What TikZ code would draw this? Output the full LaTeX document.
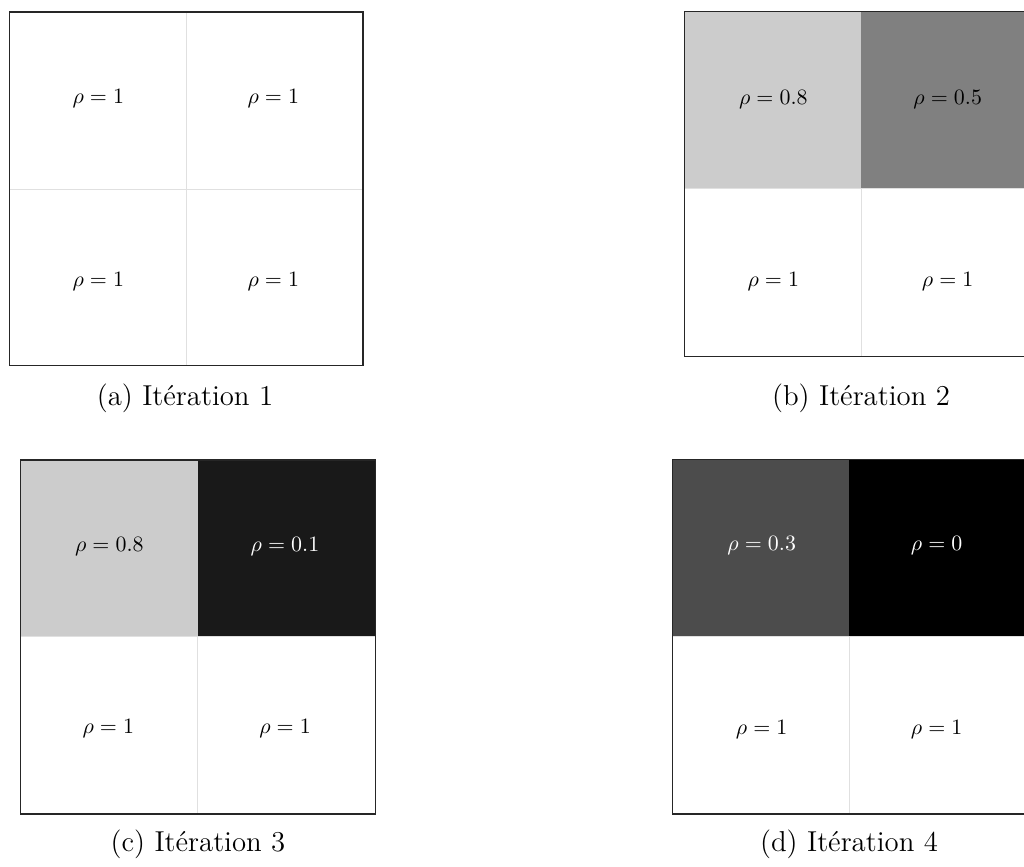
\documentclass[tikz,border=0pt]{standalone}
\usepackage{tikz}

\begin{document}
\begin{tikzpicture} [
    x=0.5pt, y=-0.5pt,
    frame/.style={draw=black!85, line width=0.7pt},
    gridLine/.style={draw=black!12, line width=0.5pt},
    rhoLabel/.style={inner sep=0pt, font=\fontsize{10.8}{13}\selectfont},
    rhoLabelDark/.style={rhoLabel, text=white},
    subCaption/.style={anchor=base, inner sep=0pt, font=\fontsize{14.4}{17}\selectfont}
]

\path[use as bounding box, clip] (0, 0) rectangle (1024, 867);

% (a) Iteration 1
\draw[gridLine] (186.3, 12) -- (186.3, 365.5);
\draw[gridLine] (9.5, 189) -- (363, 189);
\draw[frame] (9.5, 12) rectangle (363, 365.5);

\node[rhoLabel] (a_tl) at (98.3, 99) {$\rho = 1$};
\node[rhoLabel] (a_tr) at (273.3, 99) {$\rho = 1$};
\node[rhoLabel] (a_bl) at (98.3, 281.7) {$\rho = 1$};
\node[rhoLabel] (a_br) at (273.3, 281.7) {$\rho = 1$};

\node[subCaption] (cap_a) at (185, 405.8) {(a) Itération 1};

% (b) Iteration 2
\fill[black!20] (684.3, 11.3) rectangle (861, 188.3);
\fill[black!50] (861, 11.3) rectangle (1036, 188.3);
\draw[gridLine] (861, 188.3) -- (861, 356.7);
\draw[gridLine] (684.3, 188.3) -- (1036, 188.3);
\draw[frame] (684.3, 11.3) rectangle (1036, 356.7);

\node[rhoLabel] (b_tl) at (773.3, 99.3) {$\rho = 0.8$};
\node[rhoLabel] (b_tr) at (947.7, 99.3) {$\rho = 0.5$};
\node[rhoLabel] (b_bl) at (773.3, 281.7) {$\rho = 1$};
\node[rhoLabel] (b_br) at (947.7, 281.7) {$\rho = 1$};

\node[subCaption] (cap_b) at (861, 405.8) {(b) Itération 2};

% (c) Iteration 3
\fill[black!20] (20.3, 460) rectangle (197.7, 636.7);
\fill[black!90] (197.7, 460) rectangle (375.7, 636.7);
\draw[gridLine] (197.7, 636.7) -- (197.7, 814);
\draw[gridLine] (20.3, 636.7) -- (375.7, 636.7);
\draw[frame] (20.3, 460) rectangle (375.7, 814);

\node[rhoLabel] (c_tl) at (109.3, 546.7) {$\rho = 0.8$};
\node[rhoLabelDark] (c_tr) at (285, 546.7) {$\rho = 0.1$};
\node[rhoLabel] (c_bl) at (108.3, 729) {$\rho = 1$};
\node[rhoLabel] (c_br) at (285, 729) {$\rho = 1$};

\node[subCaption] (cap_c) at (198, 851) {(c) Itération 3};

% (d) Iteration 4
\fill[black!70] (672.3, 459.3) rectangle (849.3, 636.3);
\fill[black] (849.3, 459.3) rectangle (1026, 636.3);
\draw[gridLine] (849.3, 636.3) -- (849.3, 814);
\draw[gridLine] (672.3, 636.3) -- (1026, 636.3);
\draw[frame] (672.3, 459.3) rectangle (1026, 814);

\node[rhoLabelDark] (d_tl) at (761.7, 546) {$\rho = 0.3$};
\node[rhoLabelDark] (d_tr) at (936.7, 546) {$\rho = 0$};
\node[rhoLabel] (d_bl) at (761.7, 729.3) {$\rho = 1$};
\node[rhoLabel] (d_br) at (936.7, 729.3) {$\rho = 1$};

\node[subCaption] (cap_d) at (849, 851) {(d) Itération 4};

\end{tikzpicture}
\end{document}
